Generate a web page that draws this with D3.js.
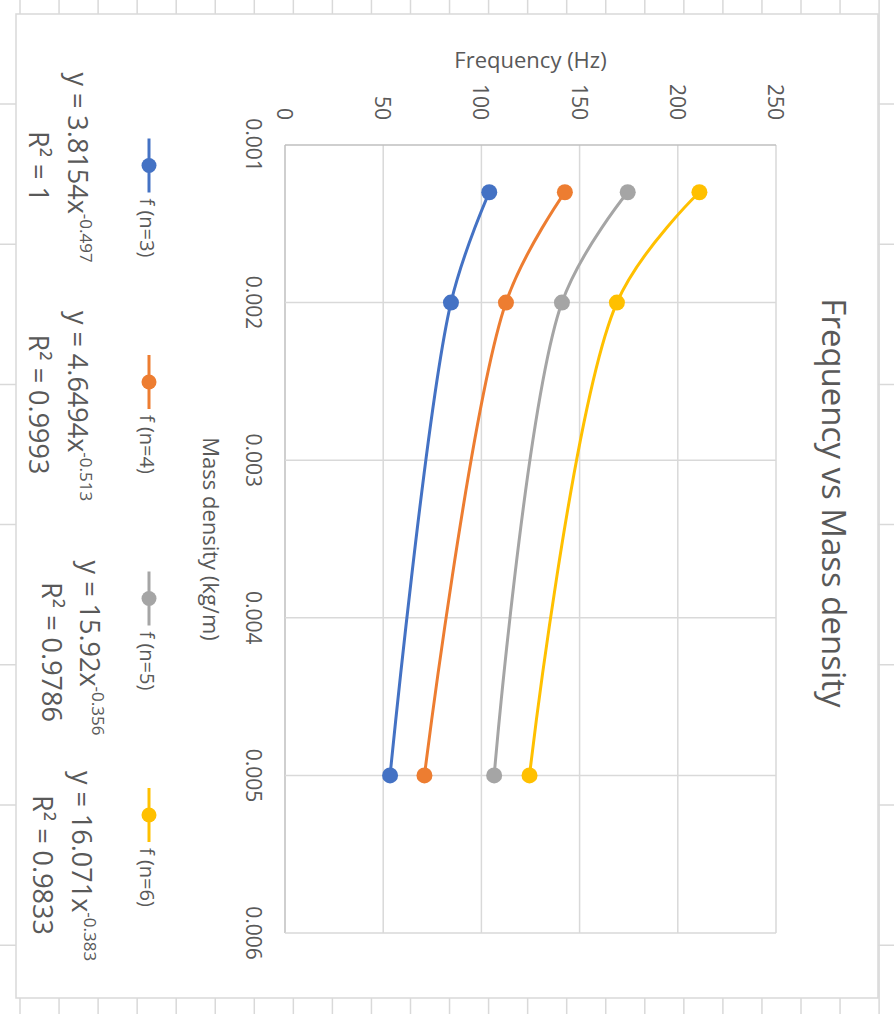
<!DOCTYPE html>
<html>
<head>
<meta charset="utf-8">
<script src="https://cdn.jsdelivr.net/npm/d3@7"></script>
<style>
body { margin: 0; background: #fff; }
svg { display: block; }
text { font-family: "Open Sans", sans-serif; fill: #595959; }
</style>
</head>
<body>
<svg width="894" height="1014"></svg>
<script>
// chart is an Excel scatter turned 90deg clockwise:
// frequency runs left -> right, mass density top -> bottom

var density = [0.0013, 0.002, 0.005];
var fN3 = [104, 84.5, 53.5];
var fN4 = [142.5, 112.5, 71];
var fN5 = [174.5, 141, 106.5];
var fN6 = [211, 169, 124.5];

var seriesNames = ["f (n=3)", "f (n=4)", "f (n=5)", "f (n=6)"];
var colorRange = ["#4472C4", "#ED7D31", "#A5A5A5", "#FFC000"];

var eqMain = ["y = 3.8154x", "y = 4.6494x", "y = 15.92x", "y = 16.071x"];
var eqPow = ["-0.497", "-0.513", "-0.356", "-0.383"];
var eqR2 = ["R\u00B2 = 1", "R\u00B2 = 0.9993", "R\u00B2 = 0.9786", "R\u00B2 = 0.9833"];

var densityTicks = [0.001, 0.002, 0.003, 0.004, 0.005, 0.006];
var freqTicks = [0, 50, 100, 150, 200, 250];

var svg = d3.select("svg"),
    W = +svg.attr("width"),
    H = +svg.attr("height");

var x = d3.scaleLinear().domain([0, 250]).range([285, 776]),
    y = d3.scaleLinear().domain([0.001, 0.006]).range([145, 933]);

var color = d3.scaleOrdinal().domain(seriesNames).range(colorRange);

// spreadsheet cells behind the chart
var grid = svg.append("g").attr("stroke", "#d9d9d9").attr("stroke-width", 1.5);
grid.selectAll(".vcell").data(d3.range(0, 23)).enter().append("line")
    .attr("x1", function(k) { return 20 + 39.05 * k; })
    .attr("x2", function(k) { return 20 + 39.05 * k; })
    .attr("y1", 0).attr("y2", H);
grid.selectAll(".hcell").data(d3.range(0, 7)).enter().append("line")
    .attr("y1", function(k) { return 104 + 140.2 * k; })
    .attr("y2", function(k) { return 104 + 140.2 * k; })
    .attr("x1", 0).attr("x2", W);

// chart area
svg.append("rect")
    .attr("x", 16).attr("y", 14)
    .attr("width", 862).attr("height", 984)
    .attr("fill", "#fff")
    .attr("stroke", "#d9d9d9")
    .attr("stroke-width", 1.5);

// gridlines
var g = svg.append("g");
g.selectAll(".gx").data(freqTicks).enter().append("line")
    .attr("x1", function(d) { return x(d); })
    .attr("x2", function(d) { return x(d); })
    .attr("y1", y.range()[0]).attr("y2", y.range()[1])
    .attr("stroke", function(d) { return d === 0 ? "#bfbfbf" : "#d9d9d9"; })
    .attr("stroke-width", 1.5);
g.selectAll(".gy").data(densityTicks).enter().append("line")
    .attr("y1", function(d) { return y(d); })
    .attr("y2", function(d) { return y(d); })
    .attr("x1", x.range()[0]).attr("x2", x.range()[1])
    .attr("stroke", function(d) { return d === 0.001 ? "#bfbfbf" : "#d9d9d9"; })
    .attr("stroke-width", 1.5);

// tick labels
g.selectAll(".tx").data(freqTicks).enter().append("text")
    .attr("transform", function(d) { return "translate(" + x(d) + ",120) rotate(90)"; })
    .attr("text-anchor", "end")
    .attr("dominant-baseline", "central")
    .style("font-size", "21px")
    .text(function(d) { return d; });
g.selectAll(".ty").data(densityTicks).enter().append("text")
    .attr("transform", function(d) { return "translate(254," + y(d) + ") rotate(90)"; })
    .attr("text-anchor", "middle")
    .attr("dominant-baseline", "central")
    .style("font-size", "21px")
    .text(function(d) { return d3.format(".3f")(d); });

// axis titles + chart title
svg.append("text")
    .attr("x", (x.range()[0] + x.range()[1]) / 2).attr("y", 68)
    .attr("text-anchor", "middle")
    .style("font-size", "22px")
    .text("Frequency (Hz)");
svg.append("text")
    .attr("transform", "translate(203," + (y.range()[0] + y.range()[1]) / 2 + ") rotate(90)")
    .attr("text-anchor", "middle")
    .style("font-size", "22px")
    .text("Mass density (kg/m)");
svg.append("text")
    .attr("transform", "translate(822,503) rotate(90)")
    .attr("text-anchor", "middle")
    .style("font-size", "33px")
    .text("Frequency vs Mass density");

// series
var series = [fN3, fN4, fN5, fN6].map(function(vals, i) {
  return { name: seriesNames[i], pts: vals.map(function(f, j) { return { d: density[j], f: f }; }) };
});

var line = d3.line()
    .x(function(p) { return x(p.f); })
    .y(function(p) { return y(p.d); })
    .curve(d3.curveCatmullRom.alpha(0.5));

var sg = svg.selectAll(".series").data(series).enter().append("g");
sg.append("path")
    .attr("d", function(s) { return line(s.pts); })
    .attr("fill", "none")
    .attr("stroke", function(s) { return color(s.name); })
    .attr("stroke-width", 3);
sg.selectAll("circle").data(function(s) { return s.pts.map(function(p) { return { p: p, c: color(s.name) }; }); })
    .enter().append("circle")
    .attr("cx", function(o) { return x(o.p.f); })
    .attr("cy", function(o) { return y(o.p.d); })
    .attr("r", 8)
    .attr("fill", function(o) { return o.c; });

// legend (left side after rotation)
var legend = svg.selectAll(".legend").data(seriesNames).enter().append("g")
    .attr("transform", function(d, i) { return "translate(149," + (165.5 + 216.5 * i) + ")"; });
legend.append("line")
    .attr("y1", -27).attr("y2", 27)
    .attr("stroke", color).attr("stroke-width", 3);
legend.append("circle").attr("r", 7.5).attr("fill", color);
legend.append("text")
    .attr("transform", "translate(-9,33) rotate(90)")
    .style("font-size", "20px")
    .text(function(d) { return d; });

// trendline labels
var eqPos = [[68, 167.5, 29, 166.5], [68, 406, 29, 404.5], [80, 648, 42, 652], [72, 866, 33, 865]];
var eq = svg.selectAll(".eq").data(eqMain).enter().append("g");
var l1 = eq.append("text")
    .attr("transform", function(d, i) { return "translate(" + eqPos[i][0] + "," + eqPos[i][1] + ") rotate(90)"; })
    .attr("text-anchor", "middle")
    .style("font-size", "27px");
l1.append("tspan").text(function(d) { return d; });
l1.append("tspan").attr("dy", -12).style("font-size", "17px").text(function(d, i) { return eqPow[i]; });
eq.append("text")
    .attr("transform", function(d, i) { return "translate(" + eqPos[i][2] + "," + eqPos[i][3] + ") rotate(90)"; })
    .attr("text-anchor", "middle")
    .style("font-size", "27px")
    .text(function(d, i) { return eqR2[i]; });
</script>
</body>
</html>
